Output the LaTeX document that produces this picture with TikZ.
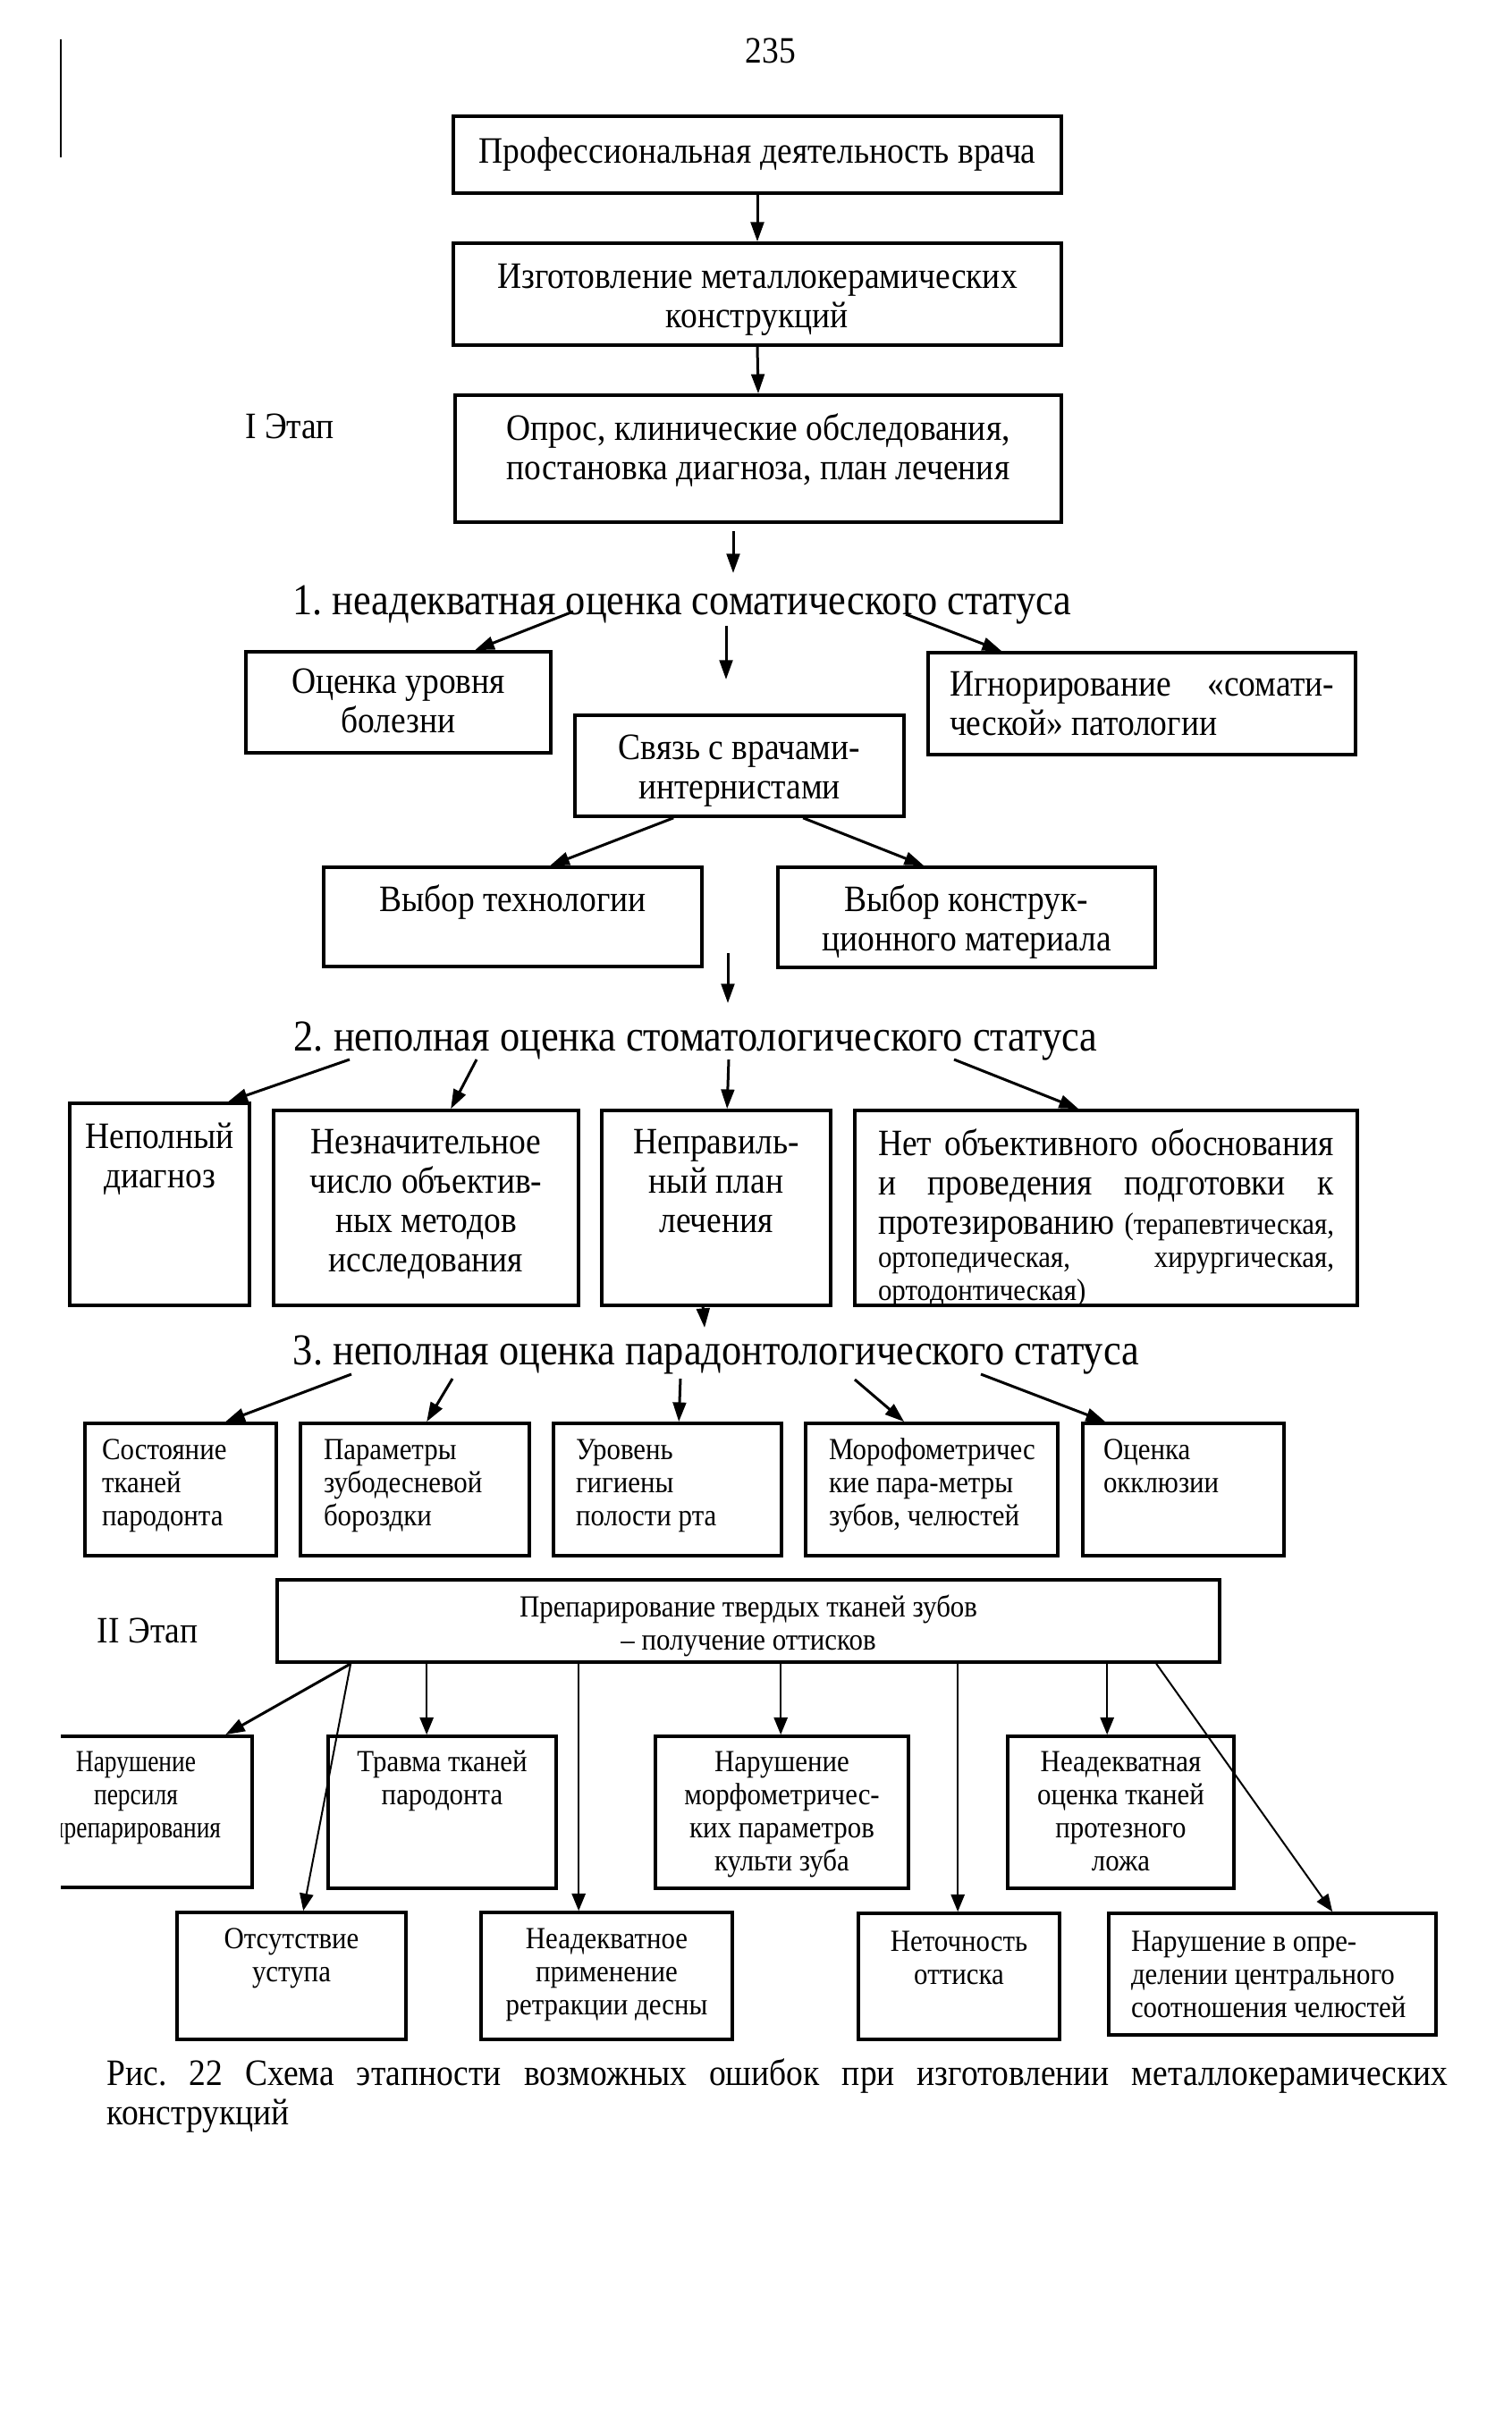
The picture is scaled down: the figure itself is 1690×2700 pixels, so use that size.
\documentclass[tikz,border=0pt]{standalone}
\usepackage{fontspec}
\setmainfont{Liberation Serif}[FakeStretch=0.9]
\newfontfamily\condfont{Liberation Serif}[FakeStretch=0.8]
\usetikzlibrary{arrows.meta,calc,fit}
\newcommand\mainsz{\fontsize{12.5pt}{13.2pt}\selectfont}
\newcommand\smallsz{\fontsize{10.3pt}{11.1pt}\selectfont}
\newcommand\headsz{\fontsize{14.8pt}{16pt}\selectfont}
\newcommand\tstrut{\rule{0pt}{0.7\baselineskip}}
\frenchspacing
\tikzset{
  boxst/.style={draw, line width=1.1pt, inner sep=0pt},
  txtst/.style={inner sep=0pt},
  headst/.style={inner sep=0pt, font=\headsz},
  labst/.style={inner sep=0pt, font=\mainsz},
  arr/.style={line width=0.9pt, -{Triangle[length=6.5pt,width=4.4pt]}},
  thinarr/.style={line width=0.6pt, -{Triangle[length=5.8pt,width=4.6pt]}},
}
% #1 name, #2 x1, #3 y1, #4 x2, #5 y2, #6 top pad, #7 side pad, #8 font/align, #9 text
\newcommand\bx[9]{%
  \node[boxst, fit={(#2,#3) (#4,#5)}] (#1) {};
  \node[txtst, anchor=north] (#1t) at ($(#1.north)+(0,#6)$)
    {\parbox[t]{\dimexpr(#4pt-#2pt-#7pt-#7pt)*3/10\relax}{#8#9}};
}
\begin{document}
\begin{tikzpicture}[x=0.3pt,y=-0.3pt]
\fill[white] (0,0) rectangle (1690,2700);
\useasboundingbox (0,0) rectangle (1690,2700);

% page furniture
\draw[line width=0.7pt] (68,44) -- (68,176);
\node[labst, anchor=base] (pg) at (862,71) {235};
\node[labst, anchor=base] (st1) at (324,490) {I Этап};
\node[labst, anchor=base] (st2) at (165,1837) {II Этап};

% top chain
\bx{A}{507}{130}{1187}{216}{23}{12}{\mainsz\centering\tstrut}{Профессиональная деятельность врача}
\bx{B}{507}{272}{1187}{386}{21}{12}{\mainsz\centering\tstrut}{Изготовление металлокерамических\\конструкций}
\bx{C}{509}{442}{1187}{584}{21}{12}{\mainsz\centering\tstrut}{Опрос, клинические обследования,\\постановка диагноза, план лечения}

% headings
\node[headst, anchor=base] (h1) at (763,687) {1. неадекватная оценка соматического статуса};
\node[headst, anchor=base] (h2) at (778,1175) {2. неполная оценка стоматологического статуса};
\node[headst, anchor=base] (h3) at (801,1526) {3. неполная оценка парадонтологического статуса};

% block 1
\bx{D}{275}{729}{616}{842}{17}{12}{\mainsz\centering\tstrut}{Оценка уровня\\болезни}
\bx{E}{643}{800}{1011}{913}{20}{12}{\mainsz\centering\tstrut}{Связь с врачами-\\интернистами}
\bx{F}{1038}{730}{1516}{844}{19}{24}{\mainsz}{\hbox to\linewidth{\tstrut Игнорирование\hfill«сомати-}\hbox to\linewidth{ческой» патологии\hfil}}
\bx{G}{362}{970}{785}{1081}{20}{12}{\mainsz\centering\tstrut}{Выбор технологии}
\bx{H}{870}{970}{1292}{1082}{20}{12}{\mainsz\centering\tstrut}{Выбор конструк-\\ционного материала}

% block 2
\bx{I}{78}{1234}{279}{1460}{21}{4}{\mainsz\centering\tstrut}{Неполный\\диагноз}
\bx{J}{306}{1242}{647}{1460}{19}{12}{\mainsz\centering\tstrut}{Незначительное\\число объектив-\\ных методов\\исследования}
\bx{K}{673}{1242}{929}{1460}{19}{8}{\mainsz\centering\tstrut}{Неправиль-\\ный план\\лечения}
\bx{L}{956}{1242}{1518}{1460}{21}{26}{\mainsz}{\hbox to\linewidth{\tstrut Нет\hfill объективного\hfill обоснования}\hbox to\linewidth{и\hfill проведения\hfill подготовки\hfill к}\hbox to\linewidth{протезированию\hfill{\smallsz(терапевтическая,}}\smallsz\hbox to\linewidth{ортопедическая,\hfill хирургическая,}\hbox to\linewidth{ортодонтическая)\hfil}}

% block 3
\bx{M}{95}{1592}{309}{1740}{16}{19}{\smallsz\raggedright\tstrut}{Состояние\\тканей\\пародонта}
\bx{N}{336}{1592}{592}{1740}{16}{26}{\smallsz\raggedright\tstrut}{Параметры\\зубодесневой\\бороздки}
\bx{O}{619}{1592}{874}{1740}{16}{25}{\smallsz\raggedright\tstrut}{Уровень\\гигиены\\полости рта}
\bx{P}{901}{1592}{1183}{1740}{16}{26}{\smallsz\raggedright\tstrut}{Морофометричес\\кие пара-метры\\зубов, челюстей}
\bx{Q}{1211}{1592}{1436}{1740}{16}{23}{\smallsz\raggedright\tstrut}{Оценка\\окклюзии}

% stage II
\bx{R}{310}{1767}{1364}{1859}{17}{12}{\smallsz\centering\tstrut}{Препарирование твердых тканей зубов\\– получение оттисков}
\begin{scope}
  \clip (68,1900) rectangle (400,2160);
  \bx{S}{22}{1942}{282}{2111}{15}{12}{\condfont\smallsz\centering\tstrut}{Нарушение\\персиля\\препарирования}
\end{scope}
\bx{T}{367}{1942}{622}{2112}{15}{10}{\smallsz\centering\tstrut}{Травма тканей\\пародонта}
\bx{U}{733}{1942}{1016}{2112}{15}{10}{\smallsz\centering\tstrut}{Нарушение\\морфометричес-\\ких параметров\\культи зуба}
\bx{V}{1127}{1942}{1380}{2112}{15}{10}{\smallsz\centering\tstrut}{Неадекватная\\оценка тканей\\протезного\\ложа}
\bx{W}{198}{2139}{454}{2281}{16}{10}{\smallsz\centering\tstrut}{Отсутствие\\уступа}
\bx{X}{538}{2139}{819}{2281}{16}{10}{\smallsz\centering\tstrut}{Неадекватное\\применение\\ретракции десны}
\bx{Y}{960}{2140}{1185}{2281}{18}{10}{\smallsz\centering\tstrut}{Неточность\\оттиска}
\bx{Z}{1240}{2140}{1606}{2276}{18}{25}{\smallsz\raggedright\tstrut}{Нарушение в опре-\\делении центрального\\соотношения челюстей}

% caption
\node[txtst, anchor=base west] (cap) at (119,2332)
  {\parbox[t]{450pt}{\mainsz Рис. 22 Схема этапности возможных ошибок при изготовлении металлокерамических\linebreak конструкций}};

% connectors: top chain
\draw[arr] (A.south) -- (B.north);
\draw[arr] (B.south) -- (C.north);
\coordinate (c0) at (820,594);
\coordinate (c1) at (820,641);
\draw[arr] (c0) -- (c1);

% connectors: block 1
\coordinate (h1a) at (641,684);
\coordinate (h1b) at (1013,687);
\coordinate (h1c) at (812,700);
\coordinate (e1) at (812,760);
\draw[arr] (h1a) -- ($(D.north west)+(258,0)$);
\draw[arr] (h1b) -- ($(F.north west)+(84,0)$);
\draw[arr] (h1c) -- (e1);
\draw[arr] ($(E.south west)+(112,0)$) -- ($(G.north west)+(255,0)$);
\draw[arr] ($(E.south west)+(257,0)$) -- ($(H.north west)+(165,0)$);
\coordinate (g1) at (814,1066);
\coordinate (g2) at (814,1122);
\draw[arr] (g1) -- (g2);

% connectors: block 2
\coordinate (h2a) at (391,1185);
\coordinate (h2b) at (533,1185);
\coordinate (h2c) at (815,1185);
\coordinate (h2d) at (1067,1185);
\draw[arr] (h2a) -- ($(I.north west)+(179,0)$);
\draw[arr] (h2b) -- ($(J.north west)+(200,0)$);
\draw[arr] (h2c) -- ($(K.north west)+(142,0)$);
\draw[arr] (h2d) -- ($(L.north west)+(252,0)$);
\coordinate (k1) at (788,1485);
\draw[arr] ($(K.south west)+(115,0)$) -- (k1);

% connectors: block 3
\coordinate (h3a) at (393,1537);
\coordinate (h3b) at (506,1542);
\coordinate (h3c) at (761,1542);
\coordinate (h3d) at (956,1543);
\coordinate (h3e) at (1097,1537);
\draw[arr] (h3a) -- ($(M.north west)+(159,0)$);
\draw[arr] (h3b) -- ($(N.north west)+(143,0)$);
\draw[arr] (h3c) -- ($(O.north west)+(142,0)$);
\draw[arr] (h3d) -- ($(P.north west)+(112,0)$);
\draw[arr] (h3e) -- ($(Q.north west)+(27,0)$);

% connectors: stage II
\draw[arr] ($(R.south west)+(84,0)$) -- ($(S.north west)+(232,0)$);
\draw[thinarr] ($(R.south west)+(84,0)$) -- ($(W.north west)+(143,0)$);
\draw[thinarr] ($(R.south west)+(169,0)$) -- ($(T.north west)+(112,0)$);
\draw[thinarr] ($(R.south west)+(339,0)$) -- ($(X.north west)+(111,0)$);
\draw[thinarr] ($(R.south west)+(565,0)$) -- ($(U.north west)+(142,0)$);
\draw[thinarr] ($(R.south west)+(763,0)$) -- ($(Y.north west)+(113,0)$);
\draw[thinarr] ($(R.south west)+(930,0)$) -- ($(V.north west)+(113,0)$);
\draw[thinarr] ($(R.south west)+(985,0)$) -- ($(Z.north west)+(252,0)$);
\end{tikzpicture}
\end{document}
